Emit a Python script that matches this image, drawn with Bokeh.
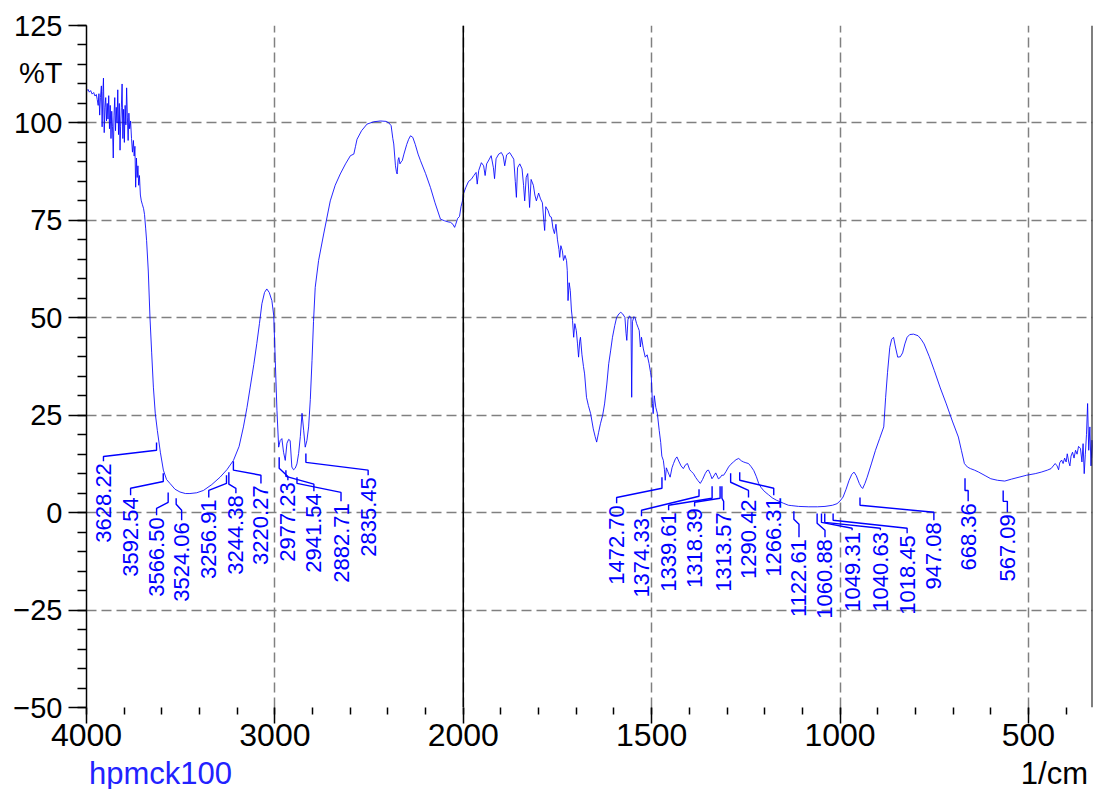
import numpy as np
from bokeh.plotting import figure
from bokeh.models import FixedTicker, Span, Range1d, ColumnDataSource, LinearAxis, Div
from bokeh.layouts import column
from bokeh.core.properties import value
from bokeh.embed import file_html
from bokeh.resources import INLINE

# ---------------- data ----------------
wavenumber = [
    4000, 3992, 3985, 3978, 3970, 3962, 3955, 3948, 3943, 3938, 3934, 3930, 3926, 3921, 3917, 3913,
    3910, 3906, 3902, 3898, 3894, 3890, 3886, 3882, 3878, 3874, 3870, 3866, 3862, 3858, 3854, 3850,
    3846, 3842, 3838, 3834, 3830, 3826, 3822, 3819, 3815, 3811, 3807, 3803, 3799, 3795, 3791, 3787,
    3783, 3779, 3775, 3771, 3766, 3761, 3756, 3751, 3747, 3743, 3739, 3735, 3731, 3727, 3723, 3719,
    3714, 3709, 3703, 3697, 3692, 3686, 3681, 3672, 3663, 3654, 3645, 3635, 3624, 3608, 3592, 3575,
    3557, 3530, 3504, 3475, 3451, 3415, 3379, 3335, 3291, 3255, 3220, 3190, 3167, 3148, 3131, 3112,
    3096, 3082, 3069, 3055, 3043, 3030, 3016, 3006, 2998, 2989, 2980, 2972, 2963, 2954, 2945, 2936,
    2927, 2919, 2910, 2901, 2892, 2883, 2874, 2865, 2856, 2847, 2839, 2830, 2821, 2812, 2803, 2795,
    2786, 2768, 2741, 2706, 2680, 2653, 2625, 2599, 2581, 2572, 2564, 2540, 2511, 2475, 2440, 2410,
    2395, 2383, 2374, 2369, 2360, 2355, 2351, 2346, 2342, 2336, 2330, 2324, 2315, 2300, 2290, 2280,
    2268, 2255, 2240, 2227, 2200, 2174, 2150, 2121, 2100, 2080, 2068, 2055, 2046, 2040, 2030, 2020,
    2012, 2004, 2000, 1993, 1986, 1979, 1972, 1966, 1963, 1959, 1952, 1946, 1942, 1938, 1932, 1926,
    1920, 1917, 1913, 1906, 1899, 1894, 1890, 1885, 1877, 1871, 1866, 1862, 1859, 1856, 1850, 1844,
    1840, 1837, 1833, 1829, 1826, 1824, 1820, 1814, 1810, 1806, 1800, 1795, 1790, 1786, 1784, 1781,
    1775, 1770, 1766, 1762, 1758, 1754, 1750, 1746, 1744, 1741, 1737, 1734, 1730, 1726, 1724, 1722,
    1719, 1716, 1713, 1710, 1707, 1704, 1700, 1697, 1694, 1691, 1689, 1685, 1681, 1678, 1673, 1668,
    1662, 1655, 1650, 1646, 1641, 1636, 1630, 1625, 1619, 1614, 1609, 1604, 1598, 1593, 1587, 1582,
    1577, 1571, 1568, 1566, 1563, 1559, 1555, 1553, 1551, 1547, 1544, 1540, 1536, 1533, 1530, 1527,
    1522, 1517, 1512, 1507, 1503, 1501, 1498, 1496, 1493, 1489, 1485, 1480, 1476, 1473, 1469, 1466,
    1464, 1461, 1457, 1451, 1446, 1442, 1437, 1433, 1427, 1422, 1416, 1410, 1405, 1399, 1394, 1389,
    1383, 1377, 1371, 1365, 1358, 1353, 1349, 1344, 1340, 1335, 1330, 1327, 1323, 1318, 1314, 1309,
    1303, 1296, 1290, 1283, 1276, 1269, 1262, 1256, 1250, 1243, 1236, 1229, 1222, 1216, 1210, 1204,
    1199, 1190, 1180, 1169, 1150, 1137, 1128, 1110, 1083, 1060, 1040, 1020, 1008, 1000, 992, 984,
    976, 969, 963, 957, 949, 944, 940, 934, 928, 917, 906, 895, 884, 879, 874, 868,
    863, 858, 853, 847, 840, 834, 828, 822, 815, 805, 793, 785, 777, 763, 750, 734,
    718, 702, 686, 678, 670, 662, 654, 643, 632, 615, 600, 582, 563, 545, 525, 505,
    482, 466, 450, 440, 429, 424, 420, 417, 412, 408, 404, 400, 397, 393, 390, 387,
    383, 379, 375, 371, 367, 362, 358, 355, 352, 349, 346, 343, 340, 337, 334, 331, 328,
]
transmittance = [
    108.2, 108.6, 107.9, 108.3, 107.4, 107.8, 106.9, 107.3, 106.0, 104.5, 107.5, 102.0, 106.5, 109.5, 99.0, 108.0,
    111.5, 97.5, 104.0, 106.5, 100.5, 105.0, 101.0, 107.0, 98.5, 104.5, 96.0, 103.0, 99.0, 91.0, 102.0, 106.5,
    98.0, 104.0, 100.0, 108.5, 97.0, 105.0, 93.0, 99.0, 104.0, 110.0, 96.0, 103.5, 95.0, 104.5, 99.5, 109.0,
    101.5, 95.5, 102.5, 98.5, 100.5, 96.0, 92.5, 95.5, 91.5, 94.0, 83.5, 91.0, 86.0, 89.0, 84.0, 86.5,
    81.5, 80.0, 79.0, 78.0, 76.5, 73.0, 69.8, 62.0, 50.0, 41.0, 32.2, 25.5, 21.1, 15.5, 10.9, 8.5,
    7.5, 6.0, 5.3, 4.9, 4.9, 5.1, 5.7, 7.2, 9.1, 11.0, 13.4, 17.0, 22.0, 27.0, 32.2, 38.0,
    43.4, 48.5, 53.6, 56.5, 57.4, 56.5, 54.4, 50.5, 39.0, 26.2, 16.8, 18.5, 19.0, 15.5, 13.4, 17.8,
    18.8, 18.5, 11.7, 11.0, 11.4, 12.5, 15.2, 19.5, 25.5, 21.0, 16.8, 18.5, 22.0, 29.0, 39.0, 49.0,
    57.8, 64.7, 71.5, 80.0, 84.0, 86.9, 89.5, 91.6, 92.0, 94.0, 95.8, 98.0, 99.7, 100.3, 100.5, 100.4,
    100.0, 99.3, 96.0, 94.6, 89.0, 87.5, 86.9, 90.5, 91.1, 89.5, 90.0, 90.3, 92.0, 94.5, 95.8, 96.7,
    96.3, 94.5, 92.0, 90.3, 87.0, 83.4, 79.5, 75.3, 74.9, 74.6, 74.5, 74.0, 73.2, 74.0, 75.5, 76.0,
    78.5, 80.0, 81.7, 83.5, 85.0, 85.5, 86.5, 87.3, 84.3, 87.8, 89.8, 89.0, 86.5, 89.5, 90.5, 91.6,
    88.5, 85.7, 90.8, 92.0, 92.4, 91.5, 89.0, 91.8, 92.4, 91.5, 90.7, 85.0, 80.9, 88.5, 89.5, 88.2,
    84.0, 80.0, 86.0, 87.0, 82.0, 78.3, 85.5, 84.0, 81.5, 80.0, 82.0, 80.5, 79.5, 74.5, 72.4, 78.5,
    77.5, 76.0, 75.8, 73.0, 71.6, 74.0, 70.0, 67.5, 65.5, 68.5, 67.2, 64.7, 66.0, 64.7, 62.1, 54.4,
    59.0, 57.0, 52.0, 49.3, 45.0, 48.5, 46.7, 43.5, 39.9, 44.0, 45.0, 40.5, 37.5, 35.6, 29.6, 27.5,
    25.4, 21.5, 19.5, 18.1, 20.5, 22.8, 25.0, 27.9, 33.0, 38.2, 41.5, 45.0, 48.0, 50.1, 51.0, 51.4,
    51.0, 50.1, 46.0, 44.2, 49.5, 50.5, 50.0, 29.6, 49.0, 50.3, 50.0, 48.5, 47.5, 46.7, 42.5, 45.0,
    42.0, 39.9, 40.5, 38.3, 36.0, 34.8, 28.0, 25.4, 30.0, 27.0, 25.5, 21.1, 18.0, 14.5, 13.4, 11.0,
    8.3, 11.5, 10.5, 9.1, 11.5, 12.6, 13.8, 14.3, 13.0, 12.0, 11.3, 12.3, 12.6, 11.0, 10.5, 10.0,
    9.0, 8.2, 7.5, 8.5, 10.0, 10.8, 10.9, 9.8, 8.7, 9.4, 10.2, 9.6, 8.7, 9.0, 9.6, 9.6,
    10.5, 11.7, 12.4, 13.0, 13.6, 13.9, 13.3, 13.0, 12.8, 12.6, 11.8, 10.8, 9.2, 7.5, 6.5, 5.8,
    5.3, 4.6, 3.8, 3.2, 2.4, 1.9, 1.8, 1.6, 1.5, 1.5, 1.6, 1.9, 2.3, 3.0, 4.0, 6.0,
    8.3, 9.8, 10.4, 9.5, 7.5, 6.6, 6.2, 7.5, 9.1, 12.5, 16.0, 19.0, 22.0, 29.6, 36.0, 42.4,
    44.5, 45.0, 42.5, 39.9, 40.0, 41.0, 43.3, 45.0, 45.7, 45.8, 45.4, 44.5, 43.3, 40.0, 36.5, 32.0,
    27.9, 23.5, 19.4, 16.0, 12.6, 11.7, 11.3, 10.9, 10.4, 9.5, 8.7, 8.3, 8.1, 8.6, 9.1, 9.6,
    10.0, 10.4, 10.9, 11.3, 12.6, 12.0, 11.0, 12.8, 13.5, 12.6, 14.0, 13.0, 15.1, 13.0, 12.0, 14.5,
    15.5, 14.0, 16.0, 15.0, 17.0, 16.5, 13.0, 17.7, 10.0, 15.0, 20.0, 28.0, 16.0, 22.0, 12.0, 18.6, 14.0,
]

peak_wn = [3628.22, 3592.54, 3566.50, 3524.06, 3256.91, 3244.38, 3220.27, 2977.23, 2941.54,
           2882.71, 2835.45, 1472.70, 1374.33, 1339.61, 1318.39, 1313.57, 1290.42, 1266.31,
           1122.61, 1060.88, 1049.31, 1040.63, 1018.45, 947.08, 668.36, 567.09]

# annotation layout (label column position in cm-1, leader levels in %T)
label_wn = [3910, 3766, 3628, 3495, 3351, 3207, 3074, 2931, 2793, 2649, 2505,
            1593, 1527, 1455, 1386, 1309, 1243, 1176,
            1109, 1040, 968, 893, 822, 751, 660, 556]
lead_a = [18.0, 10.1, 5.2, 3.7, 9.6, 10.35, 13.2, 14.2, 10.9, 9.1, 15.2,
          9.1, 6.0, 6.75, 6.75, 6.75, 10.1, 10.35,
          0.35, -0.2, -0.2, -0.2, -0.2, 3.9, 8.8, 5.7]
lead_b = [16.0, 8.0, 2.65, 2.15, 7.5, 7.3, 10.9, 11.4, 9.3, 7.5, 12.9,
          6.25, 4.2, 3.7, 3.7, 3.7, 7.8, 8.3,
          -1.7, -2.7, -2.5, -2.5, -1.95, 1.9, 5.7, 2.9]
lead_c = [14.4, 6.25, 1.1, 0.6, 5.7, 6.25, 9.6, 9.3, 7.3, 5.2, 10.9,
          3.9, 0.6, 1.9, 2.65, 2.9, 5.7, 6.25,
          -3.0, -4.5, -4.0, -4.0, -4.0, 0.1, 5.7, 2.9]
lead_d = [13.2, 4.45, -0.7, -1.95, 3.9, 4.95, 7.5, 8.3, 5.5, 2.9, 9.6,
          2.4, -0.9, 0.6, 1.6, 0.6, 3.9, 4.45,
          -6.3, -6.3, -4.5, -4.5, -5.3, -1.95, 2.9, 0.1]

x_tick_wn = [4000, 3000, 2000, 1500, 1000, 500]
y_ticks = [-50, -25, 0, 25, 50, 75, 100, 125]
y_unit_pos = 112.8
sample_name = "hpmck100"
x_unit = "1/cm"
y_unit = "%T"


def to_u(w):
    # Shimadzu-style axis: 4000-2000 compressed 2x relative to 2000-330
    return (4000.0 - w) / 2.0 if w >= 2000 else 1000.0 + (2000.0 - w)


u_spec = [to_u(w) for w in wavenumber]
u_end = to_u(330)

p = figure(width=1093, height=762, x_range=Range1d(0, u_end), y_range=Range1d(-50, 125),
           output_backend="svg", toolbar_location=None,
           min_border_left=86, min_border_right=1, min_border_top=25, min_border_bottom=55)
p.outline_line_color = None
p.background_fill_color = "white"
p.border_fill_color = "white"

FONT = "Liberation Sans"

# x axis
x_ticks = [to_u(w) for w in x_tick_wn]
p.xaxis.ticker = FixedTicker(ticks=x_ticks, minor_ticks=list(np.arange(0, u_end, 100)))
p.xaxis.major_label_overrides = {t: str(w) for t, w in zip(x_ticks, x_tick_wn)}
p.xaxis.axis_line_color = None
p.xaxis.major_tick_in = 0
p.xaxis.major_tick_out = 16
p.xaxis.minor_tick_in = 0
p.xaxis.minor_tick_out = 7
p.xaxis.major_tick_line_width = 1.5
p.xaxis.minor_tick_line_width = 1.5
p.xaxis.major_tick_line_color = "black"
p.xaxis.minor_tick_line_color = "black"
p.xaxis.major_label_text_font = FONT
p.xaxis.major_label_text_font_size = "32px"
p.xaxis.major_label_text_color = "black"
p.xaxis.major_label_standoff = 0

# inner y axis: line + tick marks only
p.yaxis.ticker = FixedTicker(ticks=y_ticks, minor_ticks=list(range(-50, 126, 5)))
p.yaxis.major_label_overrides = {t: "" for t in y_ticks}
p.yaxis.major_label_text_font_size = "1px"
p.yaxis.major_label_standoff = 0
p.yaxis.axis_line_color = "black"
p.yaxis.axis_line_width = 1.5
p.yaxis.major_tick_in = 0
p.yaxis.major_tick_out = 18
p.yaxis.minor_tick_in = 0
p.yaxis.minor_tick_out = 9
p.yaxis.major_tick_line_width = 1.5
p.yaxis.minor_tick_line_width = 1.5

# outer y axis: labels only (includes the %T unit)
ylab = LinearAxis(ticker=FixedTicker(ticks=y_ticks + [y_unit_pos], minor_ticks=[]),
                  major_label_overrides={y_unit_pos: y_unit},
                  axis_line_color=None, major_tick_line_color=None, minor_tick_line_color=None,
                  major_tick_in=0, major_tick_out=0, minor_tick_in=0, minor_tick_out=0,
                  major_label_standoff=6, major_label_text_font=FONT,
                  major_label_text_font_size="29px", major_label_text_color="black")
p.add_layout(ylab, "left")

for g in (p.xgrid, p.ygrid):
    g.grid_line_color = "#808080"
    g.grid_line_dash = "10 5"
    g.grid_line_width = 1.5

p.add_layout(Span(location=to_u(2000), dimension="height", line_color="black", line_width=1.5))
p.add_layout(Span(location=u_end, dimension="height", line_color="black", line_width=2))

# spectrum
p.line(u_spec, transmittance, line_color="#0000ff", line_width=1, line_alpha=0.85)

# peak leaders
xs, ys = [], []
for w, lw, a, b, c, d in zip(peak_wn, label_wn, lead_a, lead_b, lead_c, lead_d):
    up, ul = to_u(w), to_u(lw)
    xs.append([up, up, ul, ul])
    ys.append([a, b, c, d])
p.multi_line(xs, ys, line_color="#0000ff", line_width=1.4)

src = ColumnDataSource(dict(
    x=[to_u(w) for w in label_wn],
    y=[d - 0.5 for d in lead_d],
    t=[f"{w:.2f}" for w in peak_wn],
))
p.text(x="x", y="y", text="t", source=src, angle=np.pi / 2, text_align="right",
       text_baseline="middle", text_font=value(FONT), text_font_size="22px",
       text_color="#0000ff")

footer = Div(
    text=(
        '<div style="position:relative;width:1093px;height:27px;'
        "font-family:'Liberation Sans',Arial,sans-serif;font-size:31px;line-height:24px;\">"
        f'<span style="position:absolute;left:89px;top:0;color:#2222ff">{sample_name}</span>'
        f'<span style="position:absolute;right:5px;top:0;color:#000">{x_unit}</span></div>'
    ),
    width=1093, height=27, margin=(0, 0, 0, 0),
)

layout = column(p, footer, spacing=0)
open("out.html", "w").write(file_html(layout, INLINE))
